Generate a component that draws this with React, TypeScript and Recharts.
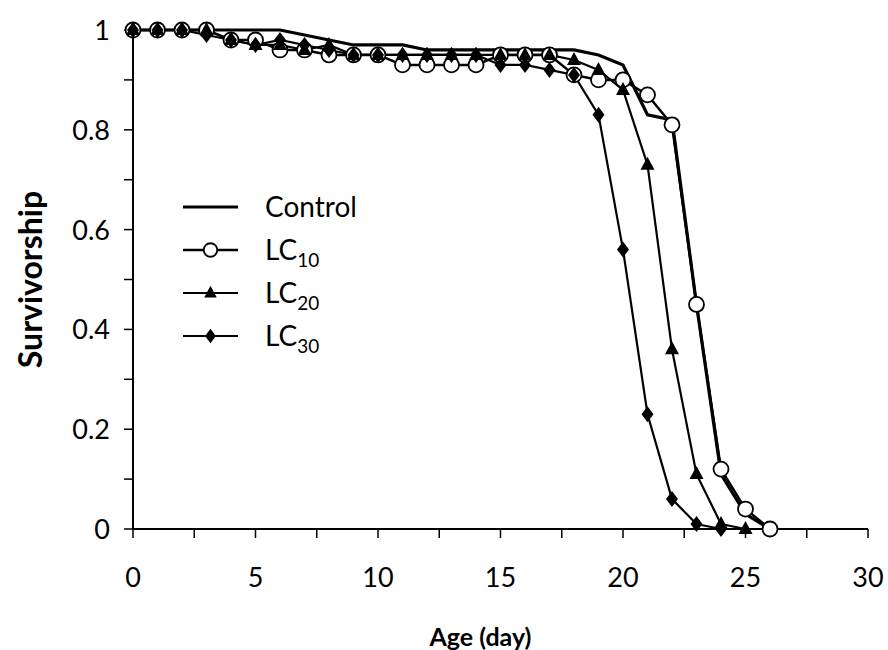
import React from 'react';
import { LineChart, Line, XAxis, YAxis, Legend, Label } from 'recharts';

const days = [0, 1, 2, 3, 4, 5, 6, 7, 8, 9, 10, 11, 12, 13, 14, 15, 16, 17, 18, 19, 20, 21, 22, 23, 24, 25, 26];
const controlValues = [1, 1, 1, 1, 1, 1, 1, 0.99, 0.98, 0.97, 0.97, 0.97, 0.96, 0.96, 0.96, 0.96, 0.96, 0.96, 0.96, 0.95, 0.93, 0.83, 0.82, 0.45, 0.11, 0.03, 0];
const lc10Values = [1, 1, 1, 1, 0.98, 0.98, 0.96, 0.96, 0.95, 0.95, 0.95, 0.93, 0.93, 0.93, 0.93, 0.95, 0.95, 0.95, 0.91, 0.9, 0.9, 0.87, 0.81, 0.45, 0.12, 0.04, 0];
const lc20Values = [1, 1, 1, 1, 0.98, 0.97, 0.97, 0.96, 0.97, 0.95, 0.95, 0.95, 0.95, 0.95, 0.95, 0.95, 0.95, 0.95, 0.94, 0.92, 0.88, 0.73, 0.36, 0.11, 0.01, 0];
const lc30Values = [1, 1, 1, 0.99, 0.98, 0.97, 0.98, 0.97, 0.96, 0.95, 0.95, 0.95, 0.95, 0.95, 0.95, 0.93, 0.93, 0.92, 0.91, 0.83, 0.56, 0.23, 0.06, 0.01, 0];

const xTicks = [0, 2.5, 5, 7.5, 10, 12.5, 15, 17.5, 20, 22.5, 25, 27.5, 30];
const xTickLabels = [0, 5, 10, 15, 20, 25, 30];
const yTicks = [0, 0.1, 0.2, 0.3, 0.4, 0.5, 0.6, 0.7, 0.8, 0.9, 1];
const yTickLabels = [0, 0.2, 0.4, 0.6, 0.8, 1];

const xTitle = 'Age (day)';
const yTitle = 'Survivorship';

const seriesDefs = [
  { key: 'control', base: 'Control', sub: '', width: 3.2, marker: 'none' },
  { key: 'lc10', base: 'LC', sub: '10', width: 2.5, marker: 'circle' },
  { key: 'lc20', base: 'LC', sub: '20', width: 2.2, marker: 'triangle' },
  { key: 'lc30', base: 'LC', sub: '30', width: 2.2, marker: 'diamond' },
];

const data = days.map((d, i) => ({
  day: d,
  control: controlValues[i] ?? null,
  lc10: lc10Values[i] ?? null,
  lc20: lc20Values[i] ?? null,
  lc30: lc30Values[i] ?? null,
}));

const FONT = 'Lato, Carlito, Calibri, sans-serif';

const drawMarker = (type: string, cx: number, cy: number, key?: any, s: number = 1) => {
  if (type === 'circle') {
    return <circle key={key} cx={cx} cy={cy} r={7.5 * s} fill="#fff" stroke="#000" strokeWidth={1.8} />;
  }
  if (type === 'triangle') {
    return <path key={key} d={`M${cx},${cy - 8 * s} L${cx + 7 * s},${cy + 5 * s} L${cx - 7 * s},${cy + 5 * s} Z`} fill="#000" />;
  }
  if (type === 'diamond') {
    return <path key={key} d={`M${cx},${cy - 8 * s} L${cx + 6 * s},${cy} L${cx},${cy + 8 * s} L${cx - 6 * s},${cy} Z`} fill="#000" />;
  }
  return <g key={key} />;
};

const makeDot = (type: string) => (props: any) => {
  const { cx, cy, key, index } = props;
  const k = key ?? `${type}-${index}`;
  if (cx == null || cy == null || !isFinite(cx) || !isFinite(cy)) return <g key={k} />;
  return drawMarker(type, cx, cy, k);
};

const XTick = (props: any) => {
  const { x, y, payload } = props;
  if (!xTickLabels.includes(payload.value)) return <g />;
  return (
    <text x={x} y={y + 47} textAnchor="middle" fontFamily={FONT} fontSize={27} fill="#000">
      {payload.value}
    </text>
  );
};

const YTick = (props: any) => {
  const { x, y, payload } = props;
  const v = Math.round(payload.value * 10) / 10;
  if (!yTickLabels.includes(v)) return <g />;
  return (
    <text x={x - 12} y={y + 10} textAnchor="end" fontFamily={FONT} fontSize={27} fill="#000">
      {String(v)}
    </text>
  );
};

const LegendContent = () => (
  <svg width={220} height={190} style={{ overflow: 'visible' }}>
    {seriesDefs.map((s, i) => {
      const y = 26 + i * 43;
      return (
        <g key={s.key}>
          <line x1={13} x2={68} y1={y} y2={y} stroke="#000" strokeWidth={s.width} />
          {drawMarker(s.marker, 40.5, y, undefined, 0.9)}
          <text x={95} y={y + 10} fontFamily={FONT} fontSize={28} fill="#000">
            {s.base}
            {s.sub ? (
              <tspan fontSize={19} dy={7}>
                {s.sub}
              </tspan>
            ) : null}
          </text>
        </g>
      );
    })}
  </svg>
);

export default function App() {
  return (
    <div style={{ position: 'absolute', left: 0, top: 0, width: 888, height: 650, background: '#fff' }}>
      <LineChart width={888} height={650} data={data} margin={{ top: 30, right: 20, bottom: 0, left: 0 }}>
        <XAxis
          dataKey="day"
          type="number"
          domain={[0, 30]}
          ticks={xTicks}
          interval={0}
          height={121}
          tickSize={9}
          tickLine={{ stroke: '#000', strokeWidth: 1.5 }}
          axisLine={{ stroke: '#000', strokeWidth: 2 }}
          tick={<XTick />}
        >
          <Label
            content={(p: any) => {
              const vb = p.viewBox;
              return (
                <text x={vb.x + vb.width / 2 - 20} y={vb.y + 117} textAnchor="middle" fontFamily={FONT} fontWeight="bold" fontSize={25} fill="#000">
                  {xTitle}
                </text>
              );
            }}
          />
        </XAxis>
        <YAxis
          type="number"
          domain={[0, 1]}
          ticks={yTicks}
          interval={0}
          width={133}
          tickSize={9}
          tickLine={{ stroke: '#000', strokeWidth: 1.5 }}
          axisLine={{ stroke: '#000', strokeWidth: 2 }}
          tick={<YTick />}
        >
          <Label
            content={(p: any) => {
              const vb = p.viewBox;
              const cx = vb.x + 29;
              const cy = vb.y + vb.height / 2;
              return (
                <text x={cx} y={cy} transform={`rotate(-90 ${cx} ${cy})`} textAnchor="middle" dominantBaseline="central" fontFamily={FONT} fontWeight="bold" fontSize={32} fill="#000">
                  {yTitle}
                </text>
              );
            }}
          />
        </YAxis>
        <Legend
          content={LegendContent}
          layout="vertical"
          align="center"
          verticalAlign="middle"
          wrapperStyle={{ left: 170, top: 181, width: 220, height: 190 }}
        />
        {seriesDefs.map((s) => (
          <Line
            key={s.key}
            dataKey={s.key}
            type="linear"
            stroke="#000"
            strokeWidth={s.width}
            dot={s.marker === 'none' ? false : makeDot(s.marker)}
            activeDot={false}
            isAnimationActive={false}
            connectNulls={false}
          />
        ))}
      </LineChart>
    </div>
  );
}
